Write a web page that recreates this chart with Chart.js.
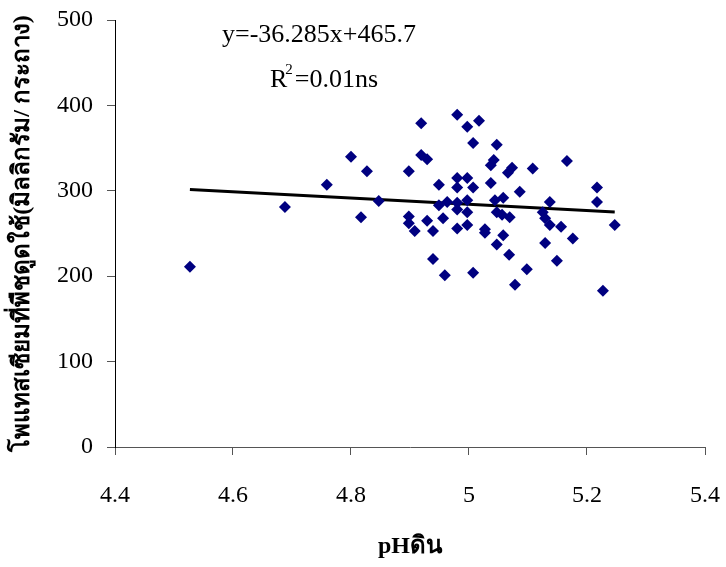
<!DOCTYPE html>
<html>
<head>
<meta charset="utf-8">
<script src="https://cdn.jsdelivr.net/npm/chart.js@4"></script>
<style>
	html, body { margin: 0; padding: 0; background: #fff; }
	#wrap { width: 726px; height: 567px; }
</style>
</head>
<body>
<div id="wrap"><canvas id="chart-js" width="726" height="567"></canvas></div>
<script>
// soil pH vs value
var pHValues = [
	4.527, 4.688, 4.759, 4.80, 4.817, 4.827, 4.847, 4.898, 4.898, 4.898,
	4.908, 4.919, 4.919, 4.929, 4.929, 4.939, 4.939, 4.949, 4.949, 4.956,
	4.959, 4.963, 4.98, 4.98, 4.98, 4.98, 4.98, 4.98, 4.997, 4.997,
	4.997, 4.997, 4.997, 5.007, 5.007, 5.007, 5.017, 5.027, 5.027, 5.037,
	5.037, 5.042, 5.047, 5.044, 5.047, 5.047, 5.058, 5.056, 5.058, 5.068,
	5.069, 5.066, 5.073, 5.078, 5.086, 5.098, 5.108, 5.125, 5.129, 5.129,
	5.137, 5.137, 5.149, 5.156, 5.166, 5.176, 5.217, 5.217, 5.227, 5.247
];
var potassiumValues = [
	211, 281, 307, 340, 269, 323, 288, 323, 270, 262,
	253, 379, 342, 337, 265, 253, 220, 307, 283, 268,
	201, 287, 389, 315, 304, 286, 278, 256, 375, 315,
	289, 275, 260, 356, 304, 204, 382, 255, 251, 309,
	330, 336, 354, 289, 275, 237, 292, 272, 248, 225,
	269, 321, 327, 190, 299, 208, 326, 275, 268, 239,
	287, 260, 218, 258, 335, 244, 304, 287, 183, 260
];

// trendline from the printed equation
var trendSlope = -36.285;
var trendIntercept = 465.7;
var equationText = "y=-36.285x+465.7";
var r2Text = ["R", "2", "=0.01ns"];

var xTicks = [4.4, 4.6, 4.8, 5.0, 5.2, 5.4];
var yTicks = [0, 100, 200, 300, 400, 500];

var xTitle = "pHดิน";
var yTitle = "โพแทสเซียมที่พืชดูดใช้(มิลลิกรัม/ กระถาง)";

var scatterData = pHValues.map((x, i) => ({ x: x, y: potassiumValues[i] }));
var xMin = Math.min.apply(null, pHValues);
var xMax = Math.max.apply(null, pHValues);
var trendData = [
	{ x: xMin, y: trendSlope * xMin + trendIntercept },
	{ x: xMax, y: trendSlope * xMax + trendIntercept },
];

const serif = "'Liberation Serif', 'Times New Roman', serif";

//* draws the equation and R2 text
const equationPlugin = {
	id: "equationText",
	afterDraw(chart) {
		const ctx = chart.ctx;
		ctx.save();
		ctx.fillStyle = "#000";
		ctx.textBaseline = "alphabetic";
		ctx.font = "26px " + serif;
		ctx.fillText(equationText, 222, 42);

		let x = 270;
		ctx.fillText(r2Text[0], x, 87);
		x += ctx.measureText(r2Text[0]).width;
		ctx.font = "15px " + serif;
		ctx.fillText(r2Text[1], x - 2, 74);
		x += ctx.measureText(r2Text[1]).width;
		ctx.font = "26px " + serif;
		ctx.fillText(r2Text[2], x, 87);
		ctx.restore();
	},
};

const config = {
	type: "scatter",
	data: {
		datasets: [
			{
				label: "data",
				data: scatterData,
				pointStyle: "rectRot",
				pointRadius: 6,
				pointHoverRadius: 6,
				backgroundColor: "#000080",
				borderColor: "#000080",
				borderWidth: 0,
			},
			{
				label: "trend",
				type: "line",
				data: trendData,
				borderColor: "#000",
				borderWidth: 3,
				pointRadius: 0,
				fill: false,
			},
		],
	},
	options: {
		responsive: false,
		animation: false,
		layout: {
			padding: { top: 20, right: 21, left: 0, bottom: 0 },
		},
		plugins: {
			legend: { display: false },
			tooltip: { enabled: false },
		},
		scales: {
			x: {
				type: "linear",
				min: 4.4,
				max: 5.4,
				afterBuildTicks: (scale) => {
					scale.ticks = xTicks.map((v) => ({ value: v }));
				},
				afterFit: (scale) => {
					scale.height = 120;
					scale.paddingLeft = 0;
					scale.paddingRight = 0;
				},
				ticks: {
					callback: (v) => String(Math.round(v * 10) / 10),
					color: "#000",
					font: { family: serif, size: 24 },
					padding: 26,
					maxRotation: 0,
				},
				grid: {
					drawOnChartArea: false,
					drawTicks: true,
					tickLength: 8,
					color: "#555",
				},
				border: { color: "#555", width: 1 },
				title: {
					display: true,
					text: xTitle,
					color: "#000",
					font: { family: serif, size: 24, weight: "bold" },
					padding: { top: 0, bottom: 6 },
				},
			},
			y: {
				min: 0,
				max: 500,
				afterBuildTicks: (scale) => {
					scale.ticks = yTicks.map((v) => ({ value: v }));
				},
				afterFit: (scale) => {
					scale.width = 115;
					scale.paddingTop = 0;
					scale.paddingBottom = 0;
				},
				ticks: {
					color: "#000",
					font: { family: serif, size: 24 },
					padding: 14,
				},
				grid: {
					drawOnChartArea: false,
					drawTicks: true,
					tickLength: 8,
					color: "#555",
				},
				border: { color: "#000", width: 1 },
				title: {
					display: true,
					text: yTitle,
					color: "#000",
					font: { family: serif, size: 24, weight: "bold" },
					padding: { top: 8, bottom: 0 },
				},
			},
		},
	},
	plugins: [equationPlugin],
};

var chart = new Chart(document.getElementById("chart-js"), config);
</script>
</body>
</html>
